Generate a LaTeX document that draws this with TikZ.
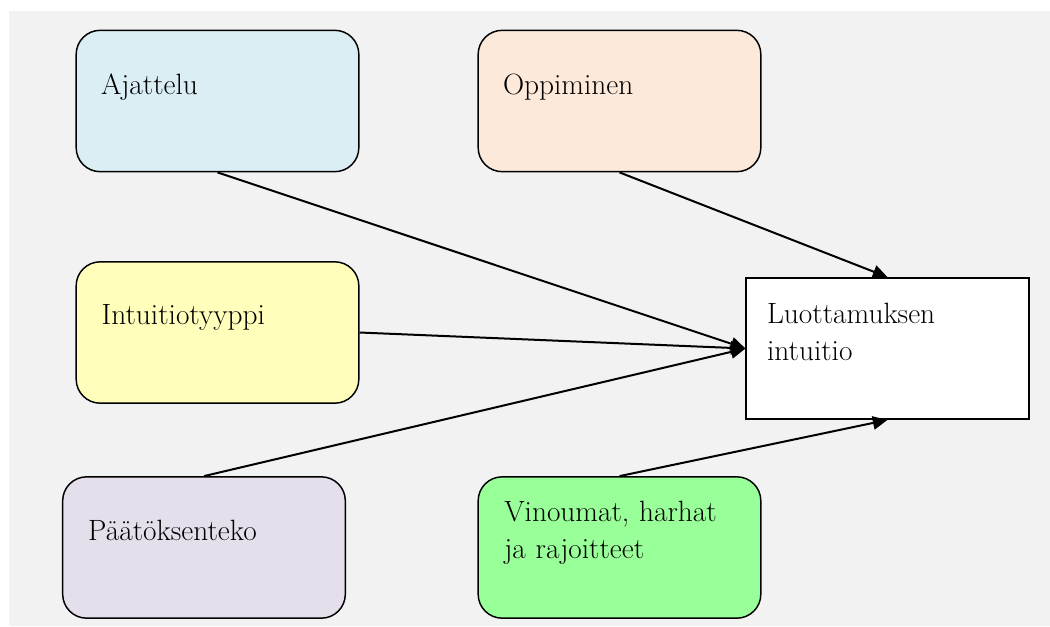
\documentclass[tikz,border=0pt]{standalone}
\usepackage{fontspec}
\usetikzlibrary{arrows.meta}

\definecolor{bgGray}{HTML}{F2F2F2}
\definecolor{ajattelu}{HTML}{DAEEF3}
\definecolor{oppiminen}{HTML}{FDE9D9}
\definecolor{intuitio}{HTML}{FFFFBB}
\definecolor{paatos}{HTML}{E5DFEC}
\definecolor{vinoumat}{HTML}{99FF99}

\begin{document}
\begin{tikzpicture}[x=0.75pt, y=-0.75pt,
		box/.style={draw, line width=1.1pt, rounded corners=18pt, minimum width=212pt, minimum height=106pt},
		target/.style={draw, line width=1.1pt, fill=white, minimum width=212pt, minimum height=106pt},
		txt/.style={font=\fontsize{22}{27.75}\selectfont, inner sep=0pt, text width=195pt, align=left},
		influence/.style={-{Triangle[length=11pt, width=10pt]}, line width=1.5pt}]
	\useasboundingbox (0,0) rectangle (1050,626);
	\fill[bgGray] (9,11) rectangle (1050,626);
					\node[box, fill=ajattelu] (Ajattelu) at (217.5,101) {};
					\node[box, fill=oppiminen] (Oppiminen) at (619.5,101) {};
					\node[box, fill=intuitio] (Intuitio) at (217.5,332.5) {};
					\node[box, fill=paatos] (Paatos) at (204,547.5) {};
					\node[box, fill=vinoumat] (Vinoumat) at (619.5,547.5) {};
					\node[target] (Luottamus) at (887.5,348.5) {};
					\node[txt, anchor=base west] (ajattelu-txt) at ([xshift=19pt, yshift=-48.5pt]Ajattelu.north west) {Ajattelu};
					\node[txt, anchor=base west] (oppiminen-txt) at ([xshift=19pt, yshift=-48.5pt]Oppiminen.north west) {Oppiminen};
					\node[txt, anchor=base west] (intuitio-txt) at ([xshift=19.5pt, yshift=-47.5pt]Intuitio.north west) {Intuitiotyyppi};
					\node[txt, anchor=base west] (paatos-txt) at ([xshift=19.5pt, yshift=-48.5pt]Paatos.north west) {Päätöksenteko};
					\node[txt, anchor=base west] (vinoumat-txt) at ([xshift=20pt, yshift=-34pt]Vinoumat.north west) {Vinoumat, harhat\\ja rajoitteet};
					\node[txt, anchor=base west] (luottamus-txt) at ([xshift=16pt, yshift=-34.5pt]Luottamus.north west) {Luottamuksen\\intuitio};
					\draw[influence] (Ajattelu.south) -- (Luottamus.west);
					\draw[influence] (Oppiminen.south) -- (Luottamus.north);
					\draw[influence] (Intuitio.east) -- (Luottamus.west);
					\draw[influence] (Paatos.north) -- (Luottamus.west);
					\draw[influence] (Vinoumat.north) -- (Luottamus.south);
\end{tikzpicture}
\end{document}
